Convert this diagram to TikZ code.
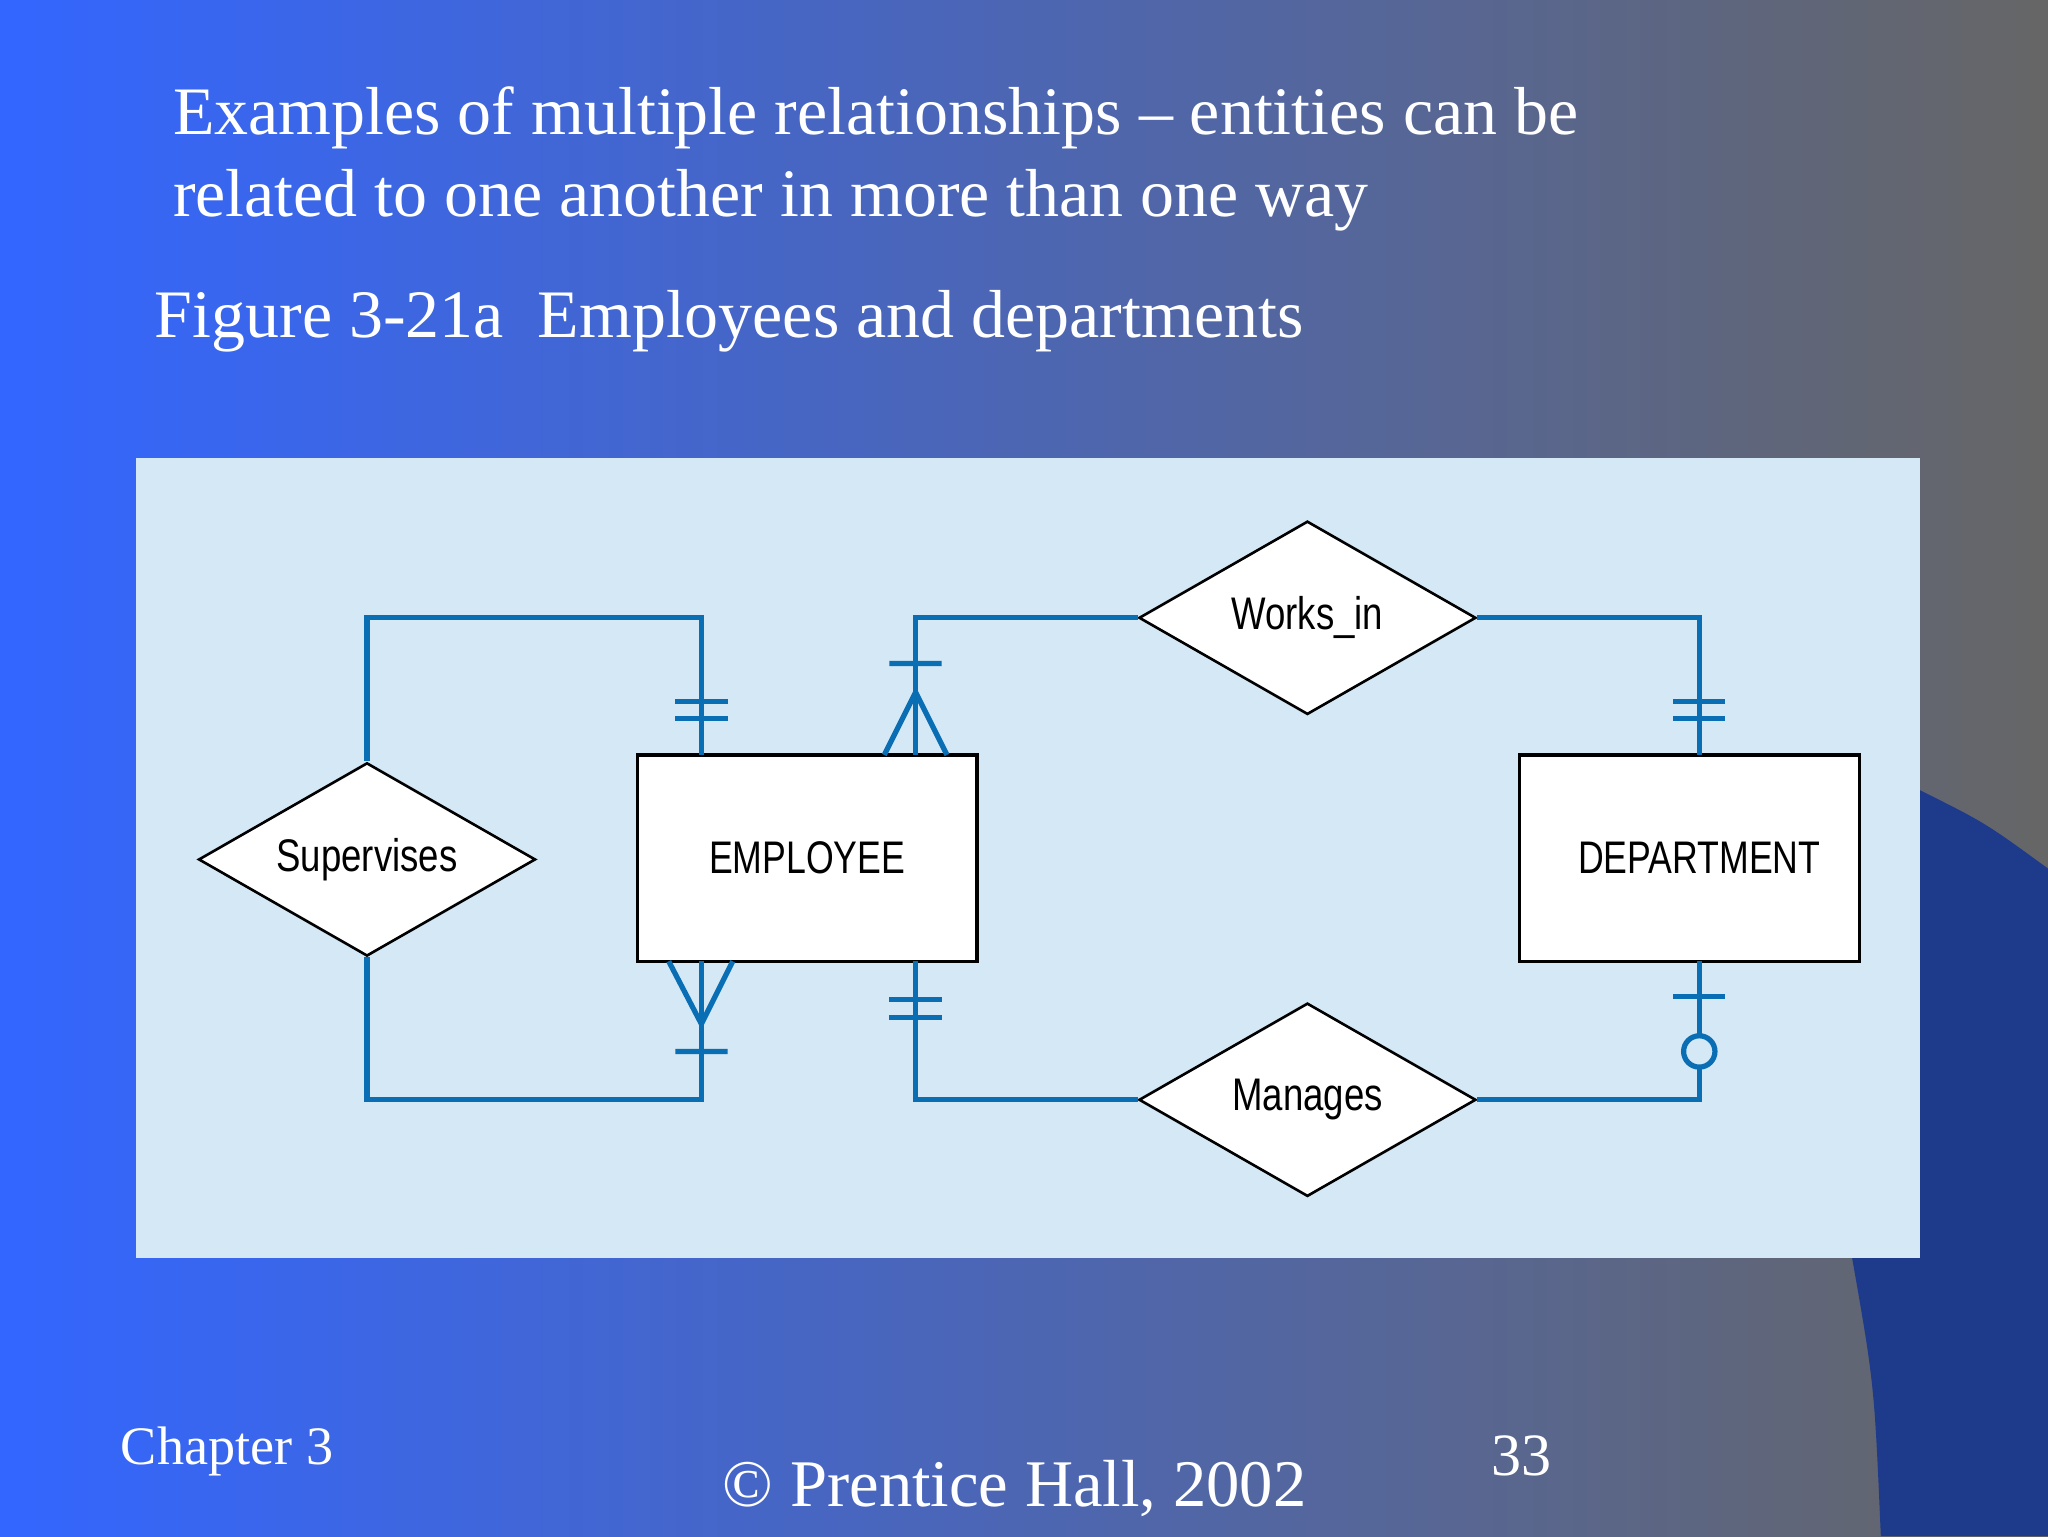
\documentclass[tikz,border=0pt]{standalone}
\usepackage{fontspec}
\setmainfont{Liberation Serif}
\newfontfamily\dsans{Liberation Sans}
\usetikzlibrary{shapes.geometric}
\definecolor{erblue}{HTML}{0A6EB4}
\definecolor{panel}{HTML}{D4E8F5}
\definecolor{bgl}{HTML}{3366FF}
\definecolor{bgr}{HTML}{666666}
\definecolor{dark}{HTML}{1E3A8A}
\begin{document}
\begin{tikzpicture}[x=1pt,y=-1pt,
  conn/.style={draw=erblue,line width=4pt},
  ent/.style={draw=black,line width=2.5pt,fill=white,minimum width=260pt,minimum height=158pt,inner sep=0pt,font=\dsans\fontsize{35}{40}\selectfont},
  rel/.style={diamond,draw=black,line width=2pt,fill=white,minimum width=258pt,minimum height=148pt,inner sep=0pt,aspect=1.74,font=\dsans\fontsize{35}{40}\selectfont},
  ttl/.style={anchor=west,text=white,font=\fontsize{52}{60}\selectfont}]
\useasboundingbox (0,0) rectangle (1568,1176);
\shade[left color=bgl,right color=bgr] (0,0) rectangle (1568,1176);
\fill[dark] (1470,605) .. controls (1520,630) .. (1568,665) -- (1568,1176) -- (1440,1176) .. controls (1435,1060) .. (1418,963) -- (1470,963) -- cycle;
\fill[panel] (104,351) rectangle (1470,963);
\node[ttl] at (129,90) {Examples of multiple relationships -- entities can be};
\node[ttl] at (129,153) {related to one another in more than one way};
\node[ttl] at (115,246) {Figure 3-21a\ \ Employees and departments};
\node[ttl,font=\fontsize{41.5}{48}\selectfont] at (89,1111) {Chapter 3};
\node[ttl,font=\fontsize{51}{60}\selectfont] at (550,1140) {© Prentice Hall, 2002};
\node[ttl,font=\fontsize{46}{54}\selectfont] at (1138,1115) {33};
\coordinate (c1) at (281,473); \coordinate (c2) at (537,473);
\coordinate (c3) at (281,842); \coordinate (c4) at (537,842);
\coordinate (c5) at (701,473); \coordinate (c6) at (1301,473);
\coordinate (c7) at (701,842); \coordinate (c8) at (1301,842);
\node[ent] (emp) at (618,657) {\scalebox{0.78}[1]{EMPLOYEE}};
\node[ent] (dep) at (1293.5,657) {\hspace*{15pt}\scalebox{0.78}[1]{DEPARTMENT}};
\node[rel] (sup) at (281,658) {\scalebox{0.8}[1]{Supervises}};
\node[rel] (wor) at (1001,473) {\scalebox{0.8}[1]{Works\_in}};
\node[rel] (man) at (1001,842) {\scalebox{0.8}[1]{Manages}};
\draw[conn] (sup.north) -- (c1) -- (c2) -- (537,578);
\draw[conn] (sup.south) -- (c3) -- (c4) -- (537,736);
\draw[conn] (wor.west) -- (c5) -- (701,578);
\draw[conn] (wor.east) -- (c6) -- (1301,578);
\draw[conn] (man.west) -- (c7) -- (701,736);
\draw[conn] (man.east) -- (c8) -- (1301,736);
\draw[conn] (517,537) -- (557,537) (517,550) -- (557,550);
\draw[conn] (512,736) -- (537,784) -- (561,736) (517,805) -- (557,805);
\draw[conn] (681,508) -- (721,508) (677,578) -- (701,530) -- (725,578);
\draw[conn] (1281,537) -- (1321,537) (1281,550) -- (1321,550);
\draw[conn] (681,765) -- (721,765) (681,779) -- (721,779);
\draw[conn] (1281,763) -- (1321,763);
\draw[conn,fill=panel] (1301,805) circle (12);
\end{tikzpicture}
\end{document}
